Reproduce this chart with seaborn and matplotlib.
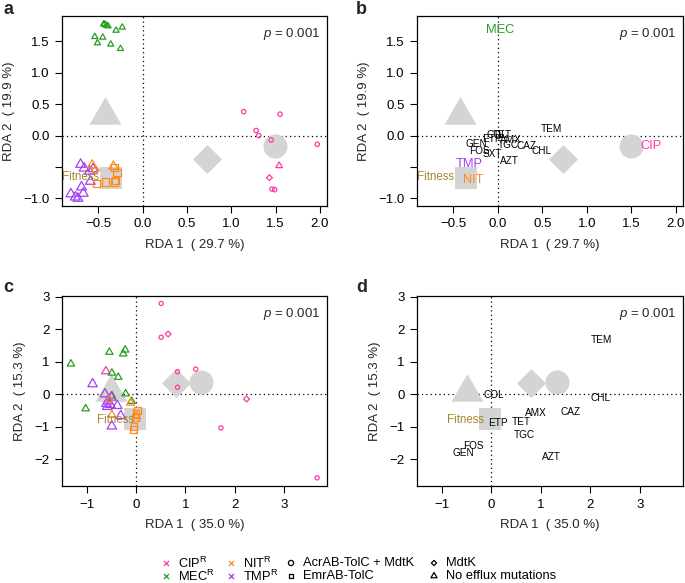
import matplotlib
matplotlib.use("Agg")
import matplotlib.pyplot as plt
import seaborn as sns
import numpy as np

sns.set_style("ticks")
plt.rcParams['font.family'] = ['Liberation Sans', 'DejaVu Sans']
plt.rcParams['mathtext.fontset'] = 'custom'
plt.rcParams['mathtext.rm'] = 'Liberation Sans'
plt.rcParams['mathtext.it'] = 'Liberation Sans:italic'
plt.rcParams['axes.unicode_minus'] = True

# ---------------- colours ----------------
COL = {"CIP": "#FF3AA6", "MEC": "#22A022", "NIT": "#FF8A1C", "TMP": "#A23FF2"}
FIT_COL = "#A8862E"
GRAY = "#D4D4D4"

# ---------------- panel a data (sample scores) ----------------
a_cip_circ_x = [1.14, 1.55, 1.28, 1.31, 1.45, 1.97, 1.46, 1.49]
a_cip_circ_y = [0.38, 0.34, 0.08, 0.00, -0.07, -0.14, -0.85, -0.86]
a_cip_tri_x = [1.54]
a_cip_tri_y = [-0.48]
a_cip_dia_x = [1.43]
a_cip_dia_y = [-0.67]
a_mec_tri_x = [-0.44, -0.41, -0.39, -0.43, -0.30, -0.23, -0.54, -0.45, -0.51, -0.36, -0.25]
a_mec_tri_y = [1.77, 1.75, 1.74, 1.77, 1.67, 1.72, 1.57, 1.56, 1.47, 1.45, 1.38]
a_tmp_tri_x = [-0.70, -0.66, -0.60, -0.56, -0.59, -0.69, -0.67, -0.81, -0.76, -0.73]
a_tmp_tri_y = [-0.46, -0.52, -0.57, -0.53, -0.73, -0.82, -0.92, -0.93, -0.98, -1.00]
a_nit_tri_x = [-0.57, -0.33]
a_nit_tri_y = [-0.47, -0.49]
a_nit_dia_x = [-0.53]
a_nit_dia_y = [-0.55]
a_nit_sq_x = [-0.32, -0.29, -0.31, -0.32, -0.42, -0.52]
a_nit_sq_y = [-0.51, -0.59, -0.71, -0.74, -0.74, -0.76]

# group centroids (panel a / b)
ab_cent_x = {"circle": 1.49, "square": -0.36, "diamond": 0.73, "triangle": -0.43}
ab_cent_y = {"circle": -0.17, "square": -0.68, "diamond": -0.38, "triangle": 0.33}

# ---------------- panel b data (variable scores) ----------------
b_labels = ["TEM", "CHL", "CAZ", "TGC", "GEN", "FOS", "SXT", "AZT", "AMX", "COL", "ETP", "TET"]
b_x = [0.60, 0.49, 0.32, 0.12, -0.245, -0.21, -0.06, 0.13, 0.14, -0.01, -0.07, 0.05]
b_y = [0.11, -0.25, -0.17, -0.15, -0.13, -0.25, -0.29, -0.40, -0.07, 0.01, -0.05, 0.01]
b_res_labels = ["MEC", "CIP", "TMP", "NIT"]
b_res_x = [0.03, 1.72, -0.32, -0.28]
b_res_y = [1.67, -0.17, -0.45, -0.70]
b_fit_x, b_fit_y = -0.70, -0.66

# ---------------- panel c data (sample scores) ----------------
c_cip_circ_x = [0.51, 0.51, 0.84, 1.21, 0.84, 1.72, 3.67]
c_cip_circ_y = [2.79, 1.75, 0.69, 0.77, 0.21, -1.04, -2.58]
c_cip_dia_x = [0.65, 2.24]
c_cip_dia_y = [1.85, -0.15]
c_cip_tri_x = [-0.61]
c_cip_tri_y = [0.70]
c_mec_tri_x = [-0.54, -0.22, -0.26, -1.32, -0.49, -0.36, -0.21, -0.49, -1.02, -0.09]
c_mec_tri_y = [1.29, 1.36, 1.24, 0.93, 0.65, 0.52, 0.01, -0.05, -0.45, -0.22]
c_tmp_tri_x = [-0.88, -0.63, -0.50, -0.57, -0.60, -0.52, -0.58, -0.38, -0.31, -0.49]
c_tmp_tri_y = [0.31, 0.00, -0.10, -0.22, -0.30, -0.33, -0.39, -0.36, -0.67, -0.99]
c_nit_tri_x = [-0.49, -0.11, 0.01]
c_nit_tri_y = [-0.64, -0.27, -0.69]
c_nit_dia_x = [-0.54]
c_nit_dia_y = [-0.17]
c_nit_sq_x = [0.03, 0.00, -0.01, -0.04, -0.05]
c_nit_sq_y = [-0.50, -0.61, -0.71, -1.00, -1.10]

cd_cent_x = {"circle": 1.32, "square": -0.03, "diamond": 0.80, "triangle": -0.50}
cd_cent_y = {"circle": 0.37, "square": -0.76, "diamond": 0.34, "triangle": 0.05}

# ---------------- panel d data (variable scores) ----------------
d_labels = ["TEM", "CHL", "CAZ", "AMX", "TET", "ETP", "TGC", "COL", "FOS", "GEN", "AZT"]
d_x = [2.23, 2.20, 1.59, 0.90, 0.60, 0.14, 0.67, 0.05, -0.36, -0.56, 1.21]
d_y = [1.66, -0.13, -0.54, -0.59, -0.87, -0.89, -1.25, -0.02, -1.59, -1.81, -1.93]
c_fit_x, c_fit_y = -0.42, -0.79
d_fit_x, d_fit_y = -0.52, -0.79

# ---------------- axis text ----------------
ab_xlabel = "RDA 1  ( 29.7 %)"
ab_ylabel = "RDA 2  ( 19.9 %)"
cd_xlabel = "RDA 1  ( 35.0 %)"
cd_ylabel = "RDA 2  ( 15.3 %)"
p_text = r"$p$ = 0.001"

ab_xticks = [-0.5, 0.0, 0.5, 1.0, 1.5, 2.0]
ab_yticks = [-1.0, -0.5, 0.0, 0.5, 1.0, 1.5]
ab_ytick_labels = ["\u22121.0", "", "0.0", "0.5", "1.0", "1.5"]
cd_xticks = [-1, 0, 1, 2, 3]
cd_yticks = [-2, -1, 0, 1, 2, 3]

# legend entries
leg_labels = ["CIP$^{\\mathrm{R}}$", "MEC$^{\\mathrm{R}}$", "NIT$^{\\mathrm{R}}$", "TMP$^{\\mathrm{R}}$",
              "AcrAB-TolC + MdtK", "EmrAB-TolC", "MdtK", "No efflux mutations"]

# marker definitions
TRI = (3, 0, 0)
MK = {"circle": "o", "square": "s", "diamond": "D", "triangle": TRI}
CENT_S = {"circle": 300, "square": 244, "diamond": 218, "triangle": 707}

W, H = 685, 583
fig = plt.figure(figsize=(W / 100, H / 100), dpi=100)


def px_axes(l, t, r, b):
    return fig.add_axes([l / W, 1 - b / H, (r - l) / W, (b - t) / H])


ax_a = px_axes(62, 16, 327, 206)
ax_b = px_axes(417, 16, 683, 206)
ax_c = px_axes(62, 296, 327, 486)
ax_d = px_axes(417, 296, 683, 486)


def style_axes(ax, xlim, ylim, xticks, yticks, xlab, ylab, yticklabels=None, fmt="{:.1f}"):
    ax.set_xlim(*xlim)
    ax.set_ylim(*ylim)
    ax.set_xticks(xticks)
    ax.set_xticklabels([fmt.format(v).replace("-", "\u2212") for v in xticks])
    ax.set_yticks(yticks)
    if yticklabels is None:
        yticklabels = [fmt.format(v).replace("-", "\u2212") for v in yticks]
    ax.set_yticklabels(yticklabels)
    ax.tick_params(direction="out", length=5, width=0.8, labelsize=9.5, pad=4, colors="black")
    for s in ax.spines.values():
        s.set_visible(True)
        s.set_linewidth(0.9)
        s.set_color("black")
    ax.set_xlabel(xlab, fontsize=9.5, labelpad=6)
    ax.set_ylabel(ylab, fontsize=9.5, labelpad=6)
    ax.axhline(0, color="black", lw=0.9, ls=(0, (1, 2.5)), zorder=1)
    ax.axvline(0, color="black", lw=0.9, ls=(0, (1, 2.5)), zorder=1)
    ax.text(0.975, 0.905, p_text, transform=ax.transAxes, ha="right", va="center", fontsize=9.5)


def centroids(ax, cx, cy):
    for k in ["triangle", "diamond", "circle", "square"]:
        sns.scatterplot(x=[cx[k]], y=[cy[k]], marker=MK[k], s=CENT_S[k], color=GRAY,
                        linewidth=0, ax=ax, legend=False, zorder=2)


def pts(ax, xs, ys, shape, col, s, lw=0.9):
    sns.scatterplot(x=xs, y=ys, marker=MK[shape], s=s, color=col, ax=ax, legend=False, zorder=4)
    coll = ax.collections[-1]
    coll.set_facecolor("none")
    coll.set_edgecolor(col)
    coll.set_linewidth(lw)


ab_xlim, ab_ylim = (-0.91, 2.08), (-1.12, 1.90)
cd_xlim, cd_ylim = (-1.50, 3.87), (-2.83, 3.02)

# ---- panel a ----
style_axes(ax_a, ab_xlim, ab_ylim, ab_xticks, ab_yticks, ab_xlabel, ab_ylabel, ab_ytick_labels)
centroids(ax_a, ab_cent_x, ab_cent_y)
pts(ax_a, a_cip_circ_x, a_cip_circ_y, "circle", COL["CIP"], 10)
pts(ax_a, a_cip_tri_x, a_cip_tri_y, "triangle", COL["CIP"], 30)
pts(ax_a, a_cip_dia_x, a_cip_dia_y, "diamond", COL["CIP"], 9)
pts(ax_a, a_mec_tri_x, a_mec_tri_y, "triangle", COL["MEC"], 26)
pts(ax_a, a_tmp_tri_x, a_tmp_tri_y, "triangle", COL["TMP"], 66)
pts(ax_a, a_nit_tri_x, a_nit_tri_y, "triangle", COL["NIT"], 60)
pts(ax_a, a_nit_dia_x, a_nit_dia_y, "diamond", COL["NIT"], 16)
pts(ax_a, a_nit_sq_x, a_nit_sq_y, "square", COL["NIT"], 28)
ax_a.text(b_fit_x, b_fit_y, "Fitness", color=FIT_COL, fontsize=8.3, ha="center", va="center", zorder=5)

# ---- panel b ----
style_axes(ax_b, ab_xlim, ab_ylim, ab_xticks, ab_yticks, ab_xlabel, ab_ylabel, ab_ytick_labels)
centroids(ax_b, ab_cent_x, ab_cent_y)
for lab, x, y in zip(b_labels, b_x, b_y):
    ax_b.text(x, y, lab, fontsize=7.2, ha="center", va="center", color="black", zorder=5)
for lab, x, y in zip(b_res_labels, b_res_x, b_res_y):
    ax_b.text(x, y, lab, fontsize=9.3, ha="center", va="center", color=COL[lab], zorder=5)
ax_b.text(b_fit_x, b_fit_y, "Fitness", color=FIT_COL, fontsize=8.3, ha="center", va="center", zorder=5)

# ---- panel c ----
style_axes(ax_c, cd_xlim, cd_ylim, cd_xticks, cd_yticks, cd_xlabel, cd_ylabel, fmt="{:d}")
centroids(ax_c, cd_cent_x, cd_cent_y)
pts(ax_c, c_cip_circ_x, c_cip_circ_y, "circle", COL["CIP"], 9)
pts(ax_c, c_cip_dia_x, c_cip_dia_y, "diamond", COL["CIP"], 9)
pts(ax_c, c_cip_tri_x, c_cip_tri_y, "triangle", COL["CIP"], 50)
pts(ax_c, c_mec_tri_x, c_mec_tri_y, "triangle", COL["MEC"], 38)
pts(ax_c, c_tmp_tri_x, c_tmp_tri_y, "triangle", COL["TMP"], 62)
pts(ax_c, c_nit_tri_x, c_nit_tri_y, "triangle", COL["NIT"], 45)
pts(ax_c, c_nit_dia_x, c_nit_dia_y, "diamond", COL["NIT"], 14)
pts(ax_c, c_nit_sq_x, c_nit_sq_y, "square", COL["NIT"], 24)
ax_c.text(c_fit_x, c_fit_y, "Fitness", color=FIT_COL, fontsize=8.3, ha="center", va="center", zorder=5)

# ---- panel d ----
style_axes(ax_d, cd_xlim, cd_ylim, cd_xticks, cd_yticks, cd_xlabel, cd_ylabel, fmt="{:d}")
centroids(ax_d, cd_cent_x, cd_cent_y)
for lab, x, y in zip(d_labels, d_x, d_y):
    ax_d.text(x, y, lab, fontsize=7.2, ha="center", va="center", color="black", zorder=5)
ax_d.text(d_fit_x, d_fit_y, "Fitness", color=FIT_COL, fontsize=8.3, ha="center", va="center", zorder=5)

# ---- panel letters ----
for lab, x, y in [("a", 3, 10), ("b", 356, 10), ("c", 3, 288), ("d", 356, 288)]:
    fig.text(x / W, 1 - y / H, lab, fontsize=13, fontweight="bold", ha="left", va="center")

# ---- legend (drawn in a hidden axes with pixel coordinates) ----
leg_ax = fig.add_axes([0, 0, 1, 1], zorder=-1)
leg_ax.set_xlim(0, W)
leg_ax.set_ylim(H, 0)
leg_ax.axis("off")
leg_markers = ["x", "x", "x", "x", "o", "s", "D", TRI]
leg_colors = [COL["CIP"], COL["MEC"], COL["NIT"], COL["TMP"], "black", "black", "black", "black"]
leg_cols_px = [166, 166, 231, 231, 291, 291, 434, 434]
leg_rows_px = [563, 576, 563, 576, 563, 576, 563, 576]
leg_s = {"x": 14, "o": 14, "s": 12, "D": 7, TRI: 26}
for mk, lab, col, x, y in zip(leg_markers, leg_labels, leg_colors, leg_cols_px, leg_rows_px):
    sns.scatterplot(x=[x], y=[y], marker=mk, s=leg_s[mk], color=col, ax=leg_ax, legend=False)
    coll = leg_ax.collections[-1]
    if mk != "x":
        coll.set_facecolor("none")
    coll.set_edgecolor(col)
    coll.set_linewidth(0.9)
    leg_ax.text(x + 12, y, lab, fontsize=9.3, ha="left", va="center", color="black")

fig.savefig("out.png", dpi=100)
